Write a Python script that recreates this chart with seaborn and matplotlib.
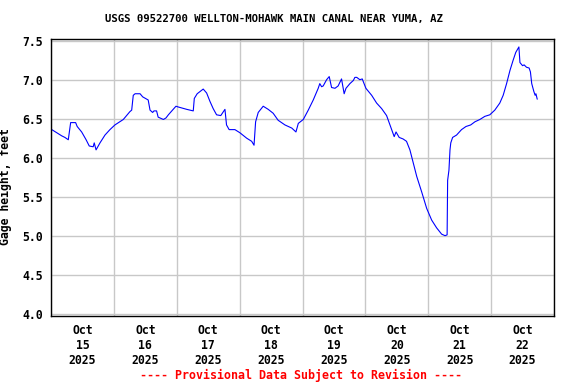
import pandas as pd
import seaborn as sns
import matplotlib
matplotlib.use('Agg')
import matplotlib.pyplot as plt
import matplotlib.dates as mdates
from matplotlib.ticker import FormatStrFormatter

# gage height readings, hours after 2025-10-15 00:00
hours = [0.3, 2.2, 4.1, 5.3, 6.6, 7.5, 9.4, 10.0, 11.7, 13.4, 14.6, 16.1, 16.5, 17.2,
         18.7, 20.6, 22.5, 24.4, 27.6, 30.1, 30.8, 31.4, 32.1, 34.0, 35.0, 37.1, 37.8,
         38.8, 39.3, 40.3, 40.9, 42.9, 43.9, 44.8, 46.1, 47.7, 48.6, 51.8, 54.3, 54.7,
         55.8, 58.1, 59.4, 60.7, 61.9, 63.2, 64.8, 66.4, 67.0, 68.0, 70.2, 72.1, 74.7,
         76.6, 77.5, 78.1, 79.1, 81.0, 82.9, 84.8, 86.7, 89.3, 91.9, 93.5, 94.4, 96.3,
         98.2, 100.1, 102.0, 102.6, 103.3, 103.9, 105.2, 106.2, 107.1, 108.4, 109.6,
         110.9, 111.9, 112.6, 114.1, 115.4, 116.0, 116.7, 117.9, 118.8, 120.2, 122.4,
         124.3, 126.2, 128.1, 129.4, 131.0, 131.7, 132.9, 134.4, 135.7, 137.0, 138.3,
         139.6, 141.5, 143.4, 145.3, 147.2, 149.1, 150.4, 151.2, 151.4, 151.9, 152.3,
         152.6, 153.3, 154.8, 156.7, 158.4, 160.2, 161.8, 163.7, 165.6, 167.5, 169.4,
         171.3, 172.6, 173.9, 175.2, 176.4, 177.4, 178.6, 179.0, 180.0, 180.6, 181.5,
         182.5, 183.0, 183.5, 184.3, 184.8, 185.1, 185.6]
gage = [6.36, 6.32, 6.28, 6.26, 6.23, 6.45, 6.45, 6.40, 6.33, 6.23, 6.15, 6.14, 6.19, 6.10,
        6.19, 6.29, 6.36, 6.42, 6.49, 6.59, 6.61, 6.80, 6.82, 6.82, 6.78, 6.74, 6.61,
        6.58, 6.60, 6.60, 6.52, 6.49, 6.51, 6.55, 6.60, 6.66, 6.65, 6.62, 6.60, 6.76,
        6.82, 6.88, 6.83, 6.72, 6.63, 6.55, 6.54, 6.62, 6.42, 6.36, 6.36, 6.32, 6.25,
        6.21, 6.16, 6.46, 6.58, 6.66, 6.62, 6.57, 6.48, 6.42, 6.38, 6.33, 6.44, 6.49,
        6.61, 6.74, 6.89, 6.95, 6.91, 6.92, 7.00, 7.04, 6.90, 6.89, 6.92,
        7.01, 6.82, 6.89, 6.95, 6.99, 7.03, 7.03, 7.00, 7.01, 6.89, 6.80,
        6.70, 6.63, 6.54, 6.42, 6.27, 6.33, 6.26, 6.24, 6.21, 6.10, 5.93,
        5.76, 5.56, 5.35, 5.20, 5.10, 5.02, 5.00, 5.01, 5.71, 5.84, 6.10,
        6.19, 6.26, 6.29, 6.36, 6.40, 6.42, 6.46, 6.49, 6.53, 6.55, 6.61,
        6.70, 6.80, 6.95, 7.12, 7.25, 7.35, 7.42, 7.22, 7.18, 7.19, 7.16,
        7.15, 7.10, 6.95, 6.85, 6.80, 6.82, 6.75]
y_ticks = [4.0, 4.5, 5.0, 5.5, 6.0, 6.5, 7.0, 7.5]

start = pd.Timestamp('2025-10-15')
df = pd.DataFrame({'time': start + pd.to_timedelta(hours, unit='h'), 'gage': gage})

sns.set_style('white')
plt.rcParams['font.family'] = ['DejaVu Sans Mono']
plt.rcParams['font.weight'] = 'bold'
plt.rcParams['text.color'] = 'black'
plt.rcParams['axes.labelcolor'] = 'black'
plt.rcParams['xtick.color'] = 'black'
plt.rcParams['ytick.color'] = 'black'

fig = plt.figure(figsize=(5.76, 3.84), dpi=100)
ax = fig.add_axes([51/576, 1-316/384, 503/576, 277/384])

sns.lineplot(data=df, x='time', y='gage', color='#0000ff', linewidth=0.8, ax=ax)

ax.set_xlim(start, pd.Timestamp('2025-10-23'))
ax.set_ylim(3.97, 7.522)
ax.set_yticks(y_ticks)
ax.yaxis.set_major_formatter(FormatStrFormatter('%.1f'))

ax.xaxis.set_major_locator(mdates.DayLocator())
ax.xaxis.set_major_formatter(plt.NullFormatter())
ax.xaxis.set_minor_locator(mdates.HourLocator(byhour=12))
ax.xaxis.set_minor_formatter(mdates.DateFormatter('%b\n%d\n%Y'))
ax.tick_params(axis='x', which='both', length=0, pad=6, labelsize=8.3)
ax.tick_params(axis='y', length=0, pad=6, labelsize=8.3)
for t in ax.get_xticklabels(minor=True) + ax.get_yticklabels():
    t.set_fontweight('bold')

ax.grid(True, which='major', color='#c8c8c8', linewidth=1.0)
for s in ax.spines.values():
    s.set_color('black')
    s.set_linewidth(1.0)

ax.set_xlabel('')
ax.set_ylabel('Gage height, feet', fontsize=8.3, fontweight='bold')
ax.yaxis.set_label_coords(-0.0775, 0.469)

fig.text(274/576, 1-19/384, 'USGS 09522700 WELLTON-MOHAWK MAIN CANAL NEAR YUMA, AZ',
         ha='center', va='center', fontsize=7.7, fontweight='bold')
fig.text(301/576, 1-375/384, '---- Provisional Data Subject to Revision ----',
         ha='center', va='center', fontsize=8.4, fontweight='bold', color='red')

fig.savefig('out.png', dpi=100)
